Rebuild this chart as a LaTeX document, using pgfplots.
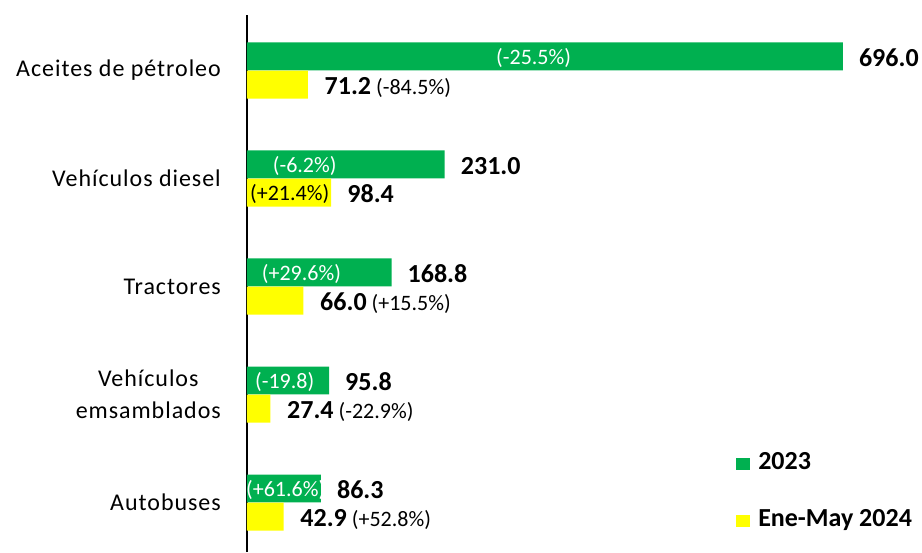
\documentclass[border=0pt]{standalone}
\usepackage{pgfplots}
\pgfplotsset{compat=1.18}
\usepackage{fontspec}
\setmainfont{Carlito}
\newfontfamily\catfont[LetterSpace=4]{Carlito}
\definecolor{barg}{HTML}{00B050}
\definecolor{bary}{HTML}{FFFF00}
\newcommand{\valf}{\fontsize{26}{30}\selectfont\bfseries}
\newcommand{\pctf}{\fontsize{22}{26}\selectfont}
\tikzset{lab/.style={anchor=base west, inner sep=0pt}}
\begin{document}
\begin{tikzpicture}
\begin{axis}[
  scale only axis, width=675pt, height=537pt,
  xmin=0, xmax=788.5, ymin=-0.458, ymax=4.514,
  xbar, bar width=0.259,
  axis x line=none, axis y line*=left,
  y axis line style={line width=2pt, black},
  xtick=\empty, ytick={0,1,2,3,4},
  yticklabels={Autobuses, {Vehículos\\emsamblados}, Tractores, Vehículos diesel, Aceites de pétroleo},
  yticklabel style={font=\catfont\fontsize{24}{32}\selectfont, align=center, inner sep=0pt, xshift=-26pt},
  major tick length=0pt,
  clip=false,
  legend image code/.code={\fill[#1] (0pt,-6pt) rectangle (14pt,6pt);},
  legend style={draw=none, fill=none, at={(axis cs:571.3,0.468)}, anchor=north west,
    font=\fontsize{26}{30}\selectfont\bfseries, inner sep=0pt, row sep=34pt, column sep=8pt,
    nodes={inner sep=0pt, text height=17pt, text depth=6pt}},
  legend cell align=left,
]
\addplot[fill=barg, draw=none, bar shift=0.13] coordinates {(696.0,4) (231.0,3) (168.8,2) (95.8,1) (86.3,0)};
\addplot[fill=bary, draw=none, bar shift=-0.13] coordinates {(71.2,4) (98.4,3) (66.0,2) (27.4,1) (42.9,0)};
\legend{2023, Ene-May 2024}
% green value labels
\node[lab, xshift=16pt, yshift=-10pt] at (axis cs:696.0,4.13) {\valf 696.0};
\node[lab, xshift=16pt, yshift=-10pt] at (axis cs:231.0,3.13) {\valf 231.0};
\node[lab, xshift=16pt, yshift=-10pt] at (axis cs:168.8,2.13) {\valf 168.8};
\node[lab, xshift=16pt, yshift=-10pt] at (axis cs:95.8,1.13) {\valf 95.8};
\node[lab, xshift=16pt, yshift=-10pt] at (axis cs:86.3,0.13) {\valf 86.3};
% white in-bar labels
\node[lab, yshift=-8pt, text=white] at (axis cs:290.9,4.13) {\pctf (-25.5\%)};
\node[lab, yshift=-8pt, text=white] at (axis cs:30.0,3.13) {\pctf (-6.2\%)};
\node[lab, yshift=-8pt, text=white] at (axis cs:17.2,2.13) {\pctf (+29.6\%)};
\node[lab, yshift=-8pt, text=white] at (axis cs:9.3,1.13) {\pctf (-19.8)};
\node[lab, yshift=-8pt, text=white] at (axis cs:-1.2,0.13) {\pctf (+61.6\%)};
% yellow labels
\node[lab, xshift=16.5pt, yshift=-10pt] at (axis cs:71.2,3.87) {\valf 71.2\hspace{5pt}\pctf\mdseries (-84.5\%)};
\node[lab, yshift=-8pt] at (axis cs:3.5,2.87) {\pctf (+21.4\%)};
\node[lab, xshift=16pt, yshift=-10pt] at (axis cs:98.4,2.87) {\valf 98.4};
\node[lab, xshift=16.5pt, yshift=-10pt] at (axis cs:66.0,1.87) {\valf 66.0\hspace{5pt}\pctf\mdseries (+15.5\%)};
\node[lab, xshift=16.5pt, yshift=-10pt] at (axis cs:27.4,0.87) {\valf 27.4\hspace{5pt}\pctf\mdseries (-22.9\%)};
\node[lab, xshift=16.5pt, yshift=-10pt] at (axis cs:42.9,-0.13) {\valf 42.9\hspace{5pt}\pctf\mdseries (+52.8\%)};
\end{axis}
\pgfresetboundingbox
\path ([xshift=-247pt]current axis.south west) rectangle ([yshift=15pt]current axis.north east);
\end{tikzpicture}
\end{document}
